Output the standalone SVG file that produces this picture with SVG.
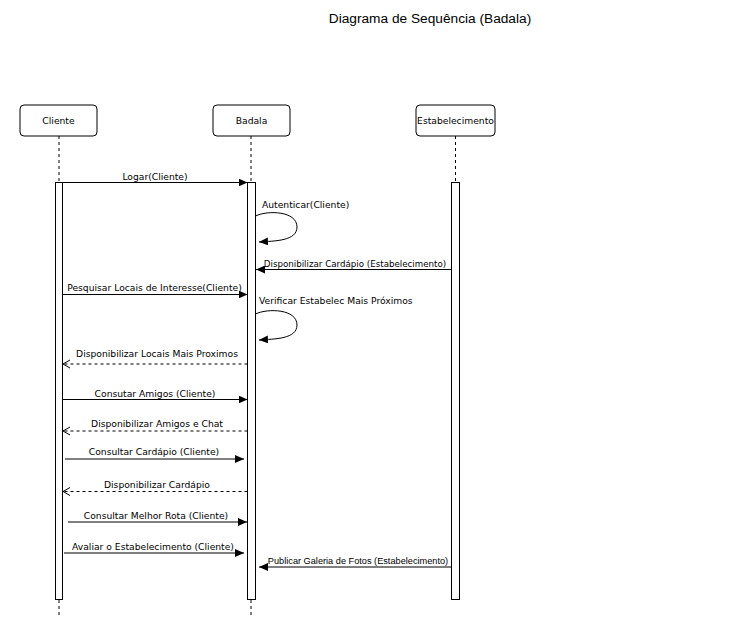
<svg xmlns="http://www.w3.org/2000/svg" width="753" height="633" viewBox="0 0 753 633">
<style>
text{font-family:"DejaVu Sans","Liberation Sans",sans-serif;font-size:9.2px;fill:#000}
.title{font-family:"Liberation Sans",Arial,sans-serif;font-size:13.7px}
.box{fill:#fff;stroke:#000;stroke-width:1}
.life{stroke:#000;stroke-width:1;stroke-dasharray:3 3;fill:none}
.act{fill:#fff;stroke:#000;stroke-width:1}
.msg{stroke:#000;stroke-width:1;fill:none}
.ret{stroke:#000;stroke-width:1;fill:none;stroke-dasharray:3 3}
.arial{font-family:"Liberation Sans",Arial,sans-serif}
</style>
<defs>
<marker id="fill" markerWidth="10" markerHeight="8" refX="9" refY="4" orient="auto" markerUnits="userSpaceOnUse">
<path d="M0,0 L9,4 L0,8 Z" fill="#000"/>
</marker>
<marker id="open" markerWidth="10" markerHeight="10" refX="8" refY="5" orient="auto" markerUnits="userSpaceOnUse">
<path d="M1,1 L8,5 L1,9" fill="none" stroke="#000" stroke-width="1"/>
</marker>
</defs>
<rect width="753" height="633" fill="#fff"/>
<text class="title" x="430" y="23" text-anchor="middle">Diagrama de Sequência (Badala)</text>

<g id="cliente">
<rect class="box" x="20" y="105" width="77" height="31" rx="4"/>
<text x="58.5" y="124" text-anchor="middle">Cliente</text>
<line class="life" x1="59" y1="136" x2="59" y2="182"/>
<rect class="act" x="55.5" y="182.5" width="7" height="417"/>
<line class="life" x1="59" y1="600" x2="59" y2="615"/>
</g>
<g id="badala">
<rect class="box" x="213" y="105" width="77" height="31" rx="4"/>
<text x="251.5" y="124" text-anchor="middle">Badala</text>
<line class="life" x1="251" y1="136" x2="251" y2="182"/>
<rect class="act" x="247.5" y="182.5" width="8" height="417"/>
<line class="life" x1="251" y1="600" x2="251" y2="615"/>
</g>
<g id="estabelecimento">
<rect class="box" x="416" y="105" width="79" height="31" rx="4"/>
<text x="455.5" y="124" text-anchor="middle">Estabelecimento</text>
<line class="life" x1="455.5" y1="136" x2="455.5" y2="182"/>
<rect class="act" x="451.5" y="182.5" width="8" height="417"/>
</g>

<g id="connectors">
<line class="msg" x1="62.5" y1="182.5" x2="247.5" y2="182.5" marker-end="url(#fill)"/>
<text x="155" y="180" text-anchor="middle">Logar(Cliente)</text>

<path class="msg" d="M255.5,216 C268,210 297,211 297,227 C297,241 275,241 259,242" marker-end="url(#fill)"/>
<text x="262" y="208">Autenticar(Cliente)</text>

<line class="msg" x1="451.5" y1="269.5" x2="256" y2="269.5" marker-end="url(#fill)"/>
<text x="355" y="267" text-anchor="middle" style="font-size:8.7px">Disponibilizar Cardápio (Estabelecimento)</text>

<line class="msg" x1="62.5" y1="294.5" x2="247.5" y2="294.5" marker-end="url(#fill)"/>
<text x="154.5" y="291" text-anchor="middle">Pesquisar Locais de Interesse(Cliente)</text>

<path class="msg" d="M255.5,314 C268,308 297,309 297,325 C297,339 275,339 259,340" marker-end="url(#fill)"/>
<text x="259" y="304">Verificar Estabelec Mais Próximos</text>

<line class="ret" x1="247.5" y1="364" x2="63" y2="364" marker-end="url(#open)"/>
<text x="157" y="357" text-anchor="middle">Disponibilizar Locais Mais Proximos</text>

<line class="msg" x1="62.5" y1="399.5" x2="247.5" y2="399.5" marker-end="url(#fill)"/>
<text x="155" y="397" text-anchor="middle">Consutar Amigos (Cliente)</text>

<line class="ret" x1="247.5" y1="431" x2="63" y2="431" marker-end="url(#open)"/>
<text x="157" y="427" text-anchor="middle">Disponibilizar Amigos e Chat</text>

<line class="msg" x1="65" y1="459" x2="244" y2="459" marker-end="url(#fill)"/>
<text x="154" y="455" text-anchor="middle">Consultar Cardápio (Cliente)</text>

<line class="ret" x1="247.5" y1="491.5" x2="63" y2="491.5" marker-end="url(#open)"/>
<text x="157" y="488" text-anchor="middle">Disponibilizar Cardápio</text>

<line class="msg" x1="68" y1="522" x2="247" y2="522" marker-end="url(#fill)"/>
<text x="156" y="519" text-anchor="middle">Consultar Melhor Rota (Cliente)</text>

<line class="msg" x1="64" y1="553" x2="244" y2="553" marker-end="url(#fill)"/>
<text x="153" y="550" text-anchor="middle">Avaliar o Estabelecimento (Cliente)</text>

<line class="msg" x1="451.5" y1="567" x2="259" y2="567" marker-end="url(#fill)"/>
<text class="arial" x="358" y="564" text-anchor="middle">Publicar Galeria de Fotos (Estabelecimento)</text>
</g>
</svg>
